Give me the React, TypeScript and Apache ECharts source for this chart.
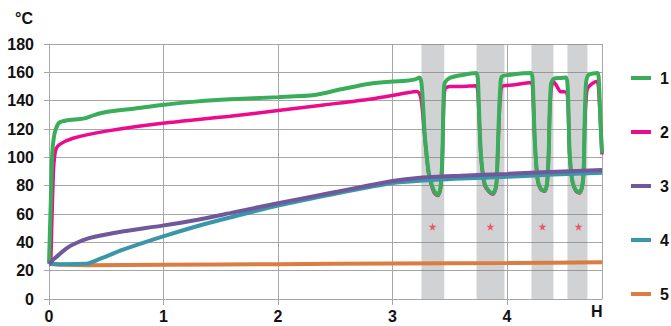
import React, { useEffect, useRef } from "react";
import * as echarts from "echarts";

const seriesNames = ["1", "2", "3", "4", "5"];
const colors = ["#3aad5b", "#ec0b8d", "#70589b", "#3b96a9", "#db7c40"];

const s1: [number, number][] = [
  [0, 25], [0.006, 25], [0.018, 75], [0.028, 102], [0.042, 114], [0.06, 120], [0.09, 124.5], [0.15, 126],
  [0.27, 127], [0.31, 127.5], [0.4, 130], [0.5, 132], [0.75, 134.5], [0.99, 137], [1.3, 139.5], [1.58, 141],
  [2.0, 142.5], [2.32, 144], [2.55, 148], [2.8, 152], [3.0, 153.5], [3.12, 154], [3.2, 155], [3.236, 156.4],
  [3.252, 153], [3.265, 140], [3.28, 118], [3.294, 105], [3.315, 90], [3.338, 82], [3.365, 76], [3.396, 73.5],
  [3.418, 78], [3.431, 91], [3.437, 105], [3.442, 125], [3.448, 145], [3.456, 152.4], [3.5, 156], [3.6, 158],
  [3.73, 159.5], [3.745, 156], [3.753, 140], [3.762, 120], [3.774, 100], [3.803, 82], [3.84, 76.5], [3.876, 74.6],
  [3.9, 78], [3.911, 85], [3.92, 105], [3.93, 130], [3.942, 150], [3.955, 157], [4.05, 158.5], [4.21, 159.5],
  [4.224, 155], [4.232, 138], [4.24, 118], [4.25, 102], [4.269, 84], [4.295, 78], [4.327, 76.5], [4.347, 80],
  [4.356, 88], [4.365, 105], [4.372, 130], [4.385, 152], [4.41, 155.5], [4.47, 156], [4.517, 156.4],
  [4.53, 150], [4.538, 130], [4.546, 105], [4.56, 90], [4.575, 82], [4.6, 77], [4.633, 75.3], [4.655, 79],
  [4.668, 88], [4.674, 105], [4.68, 130], [4.69, 152], [4.71, 158], [4.79, 159.5], [4.804, 152], [4.815, 128], [4.83, 103]
];

const s2: [number, number][] = [
  [0, 25], [0.012, 25], [0.025, 55], [0.04, 92], [0.058, 105], [0.09, 109], [0.21, 113.5], [0.5, 118.5],
  [0.99, 124], [1.58, 129], [2.0, 133], [2.4, 137], [2.8, 141], [3.12, 145.4], [3.21, 146.5], [3.236, 145],
  [3.252, 140], [3.265, 130], [3.28, 116], [3.294, 104], [3.315, 89], [3.338, 81], [3.365, 75], [3.396, 73],
  [3.418, 77], [3.431, 90], [3.437, 104], [3.442, 122], [3.448, 138], [3.46, 148.5], [3.5, 150], [3.6, 150],
  [3.73, 150.5], [3.745, 147], [3.753, 135], [3.762, 118], [3.774, 99], [3.803, 81], [3.84, 76], [3.876, 74],
  [3.9, 77.5], [3.911, 84], [3.92, 104], [3.93, 125], [3.942, 143], [3.958, 150], [4.05, 151], [4.21, 152.8],
  [4.224, 149], [4.232, 135], [4.24, 117], [4.25, 101], [4.269, 83], [4.295, 77.5], [4.327, 76], [4.347, 79.5],
  [4.356, 87], [4.365, 104], [4.372, 128], [4.385, 148], [4.405, 153.5], [4.43, 151], [4.465, 146.5], [4.517, 146],
  [4.53, 142], [4.538, 126], [4.546, 104], [4.56, 89], [4.575, 81.5], [4.6, 76.5], [4.633, 74.8], [4.655, 78.5],
  [4.668, 87], [4.674, 104], [4.68, 125], [4.692, 142], [4.706, 149], [4.78, 153.6], [4.796, 152], [4.808, 138], [4.83, 102]
];

const s3: [number, number][] = [
  [0, 24.7], [0.04, 28], [0.09, 31.5], [0.15, 35.5], [0.21, 38.5], [0.35, 43], [0.64, 47.6], [0.99, 51.8],
  [1.3, 56], [1.58, 60.6], [2.0, 67.6], [2.5, 75.5], [3.0, 83.3], [3.24, 85.6], [3.6, 87], [4.0, 88.3],
  [4.31, 89.5], [4.83, 91]
];

const s4: [number, number][] = [
  [0, 24.7], [0.1, 24.6], [0.325, 24.8], [0.45, 28.5], [0.64, 34.6], [0.99, 44], [1.3, 51.5], [1.58, 57.5],
  [2.0, 66], [2.5, 74.3], [3.0, 81.8], [3.24, 83.5], [3.6, 85], [4.0, 86.3], [4.4, 87.8], [4.83, 89.2]
];

const s5: [number, number][] = [
  [0, 24.7], [0.1, 24.2], [0.35, 23.9], [1, 24.2], [2, 24.6], [3, 25], [4, 25.4], [4.83, 25.9]
];

const bands: [number, number][] = [[3.253, 3.452], [3.734, 3.978], [4.214, 4.406], [4.528, 4.703]];
const starX = [3.35, 3.855, 4.31, 4.625];
const starY = 51;

const yTicks = { min: 0, max: 180, interval: 20 };
const xTicks = { min: 0, max: 4.83, interval: 1, endLabel: "H" };

const STAR = "path://M50,0 L61,35 L98,35 L68,57 L79,91 L50,70 L21,91 L32,57 L2,35 L39,35 Z";
const FONT = "'Liberation Sans', Arial, sans-serif";

export default function App() {
  const ref = useRef<HTMLDivElement>(null);
  useEffect(() => {
    if (!ref.current) return;
    const chart = echarts.init(ref.current, undefined, { renderer: "svg" });
    const lineData = [s1, s2, s3, s4, s5];
    const drawOrder = [1, 0, 4, 3, 2];
    const lineSeries = drawOrder.map((i) => ({
      name: seriesNames[i],
      type: "line",
      data: lineData[i],
      showSymbol: false,
      symbol: "none",
      smooth: 0.25,
      lineStyle: { color: colors[i], width: i === 1 ? 3.5 : 4 },
      itemStyle: { color: colors[i] },
      z: 3,
    }));
    chart.setOption({
      animation: false,
      textStyle: { fontFamily: FONT },
      grid: { left: 49, right: 69, top: 44, bottom: 27 },
      xAxis: {
        type: "value",
        min: xTicks.min,
        max: xTicks.max,
        interval: xTicks.interval,
        axisLine: { show: true, lineStyle: { color: "#a6a6a6", width: 1 } },
        axisTick: { show: true, length: 6, lineStyle: { color: "#a6a6a6" } },
        splitLine: { show: true, lineStyle: { color: "#a6a6a6", width: 1 } },
        axisLabel: {
          margin: 9,
          color: "#111",
          fontSize: 16,
          fontWeight: "bold",
          fontFamily: FONT,
          showMaxLabel: false,
          formatter: (v: number) => (Number.isInteger(v) ? String(v) : ""),
        },
      },
      yAxis: {
        type: "value",
        min: yTicks.min,
        max: yTicks.max,
        interval: yTicks.interval,
        axisLine: { show: true, lineStyle: { color: "#a6a6a6", width: 1 } },
        axisTick: { show: true, length: 5, lineStyle: { color: "#a6a6a6" } },
        splitLine: { show: true, lineStyle: { color: "#a6a6a6", width: 1 } },
        axisLabel: { margin: 15, color: "#111", fontSize: 16, fontWeight: "bold", fontFamily: FONT },
      },
      legend: {
        data: seriesNames,
        orient: "vertical",
        left: 626,
        top: 65,
        itemWidth: 20,
        itemHeight: 4,
        itemGap: 38,
        icon: "rect",
        textStyle: { fontSize: 16, fontWeight: "bold", color: "#111", lineHeight: 16, padding: [0, 0, 0, 4], fontFamily: FONT },
      },
      graphic: [
        { type: "text", left: 15, top: 10, style: { text: "°C", fontSize: 16, fontWeight: "bold", fill: "#111", font: `bold 16px ${FONT}` } },
        { type: "text", left: 591, top: 303, style: { text: xTicks.endLabel, fontSize: 16, fontWeight: "bold", fill: "#111", font: `bold 16px ${FONT}` } },
      ],
      series: [
        {
          name: "bands",
          type: "line",
          data: [],
          z: 1,
          silent: true,
          markArea: {
            silent: true,
            itemStyle: { color: "rgba(120,122,128,0.34)" },
            data: bands.map(([a, b]) => [{ xAxis: a }, { xAxis: b }]),
          },
        },
        ...lineSeries,
        {
          name: "stars",
          type: "scatter",
          data: starX.map((x) => [x, starY]),
          symbol: STAR,
          symbolSize: 8,
          itemStyle: { color: "#f03a4c" },
          z: 4,
        },
      ],
    });
    return () => chart.dispose();
  }, []);
  return <div ref={ref} style={{ width: 671, height: 326, position: "absolute", left: 0, top: 0 }} />;
}
